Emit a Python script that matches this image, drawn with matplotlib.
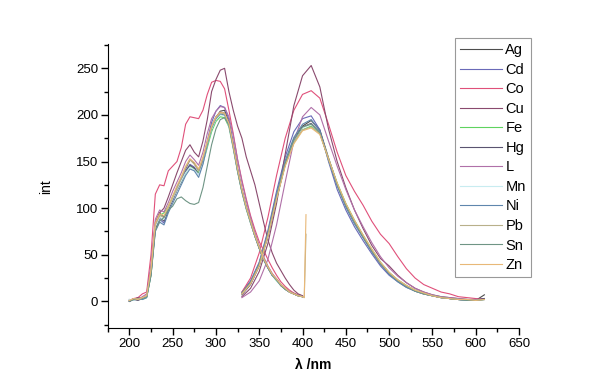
import numpy as np
import matplotlib
matplotlib.use('Agg')
import matplotlib.pyplot as plt
from matplotlib.ticker import MultipleLocator

plt.rcParams['font.family'] = ['Liberation Sans', 'DejaVu Sans']

# ── data ──────────────────────────────────────────────────────
names = ['Ag', 'Cd', 'Co', 'Cu', 'Fe', 'Hg', 'L', 'Mn', 'Ni', 'Pb', 'Sn', 'Zn']

# excitation band, 200-400 nm every 5 nm
ex_x = np.arange(200, 401, 5)
ex_Ag = [0, 3, 2, 4, 5, 35, 82, 95, 90, 100, 112, 122, 132, 142, 152, 148, 140, 152, 170, 186, 197, 204, 205, 192, 168, 142, 120, 102, 86, 71, 58, 46, 37, 29, 24, 18, 14, 10, 8, 6, 5]
ex_Cd = [2, 1, 4, 3, 6, 32, 78, 88, 84, 98, 110, 121, 131, 140, 147, 144, 137, 150, 172, 192, 204, 210, 208, 195, 170, 143, 120, 100, 84, 70, 57, 45, 36, 28, 23, 17, 13, 10, 8, 6, 5]
ex_Co = [0, 3, 4, 8, 10, 50, 115, 125, 124, 140, 145, 150, 165, 190, 198, 197, 196, 205, 222, 235, 237, 236, 228, 205, 180, 152, 130, 110, 92, 77, 64, 55, 45, 36, 28, 21, 16, 12, 9, 7, 6]
ex_Cu = [1, 2, 4, 3, 6, 35, 85, 95, 100, 112, 125, 138, 150, 162, 168, 160, 155, 172, 195, 225, 238, 248, 250, 225, 205, 188, 175, 155, 140, 125, 105, 85, 66, 52, 41, 33, 25, 18, 12, 8, 6]
ex_Fe = [1, 2, 3, 2, 4, 28, 80, 92, 95, 102, 112, 120, 128, 138, 145, 142, 138, 148, 165, 182, 193, 198, 197, 187, 164, 139, 117, 99, 84, 70, 57, 45, 36, 28, 22, 17, 13, 10, 8, 6, 5]
ex_Hg = [0, 2, 1, 3, 5, 30, 78, 90, 86, 98, 108, 119, 128, 139, 146, 143, 136, 150, 170, 188, 198, 203, 202, 190, 166, 140, 118, 100, 85, 70, 57, 45, 36, 28, 23, 17, 13, 10, 8, 6, 5]
ex_L = [1, 3, 2, 5, 8, 38, 88, 98, 96, 106, 118, 128, 138, 150, 157, 152, 146, 160, 180, 196, 204, 209, 208, 198, 178, 152, 128, 108, 90, 74, 60, 48, 38, 30, 24, 18, 14, 10, 8, 6, 5]
ex_Mn = [2, 1, 3, 2, 5, 30, 80, 90, 88, 100, 110, 120, 129, 138, 144, 141, 136, 148, 168, 185, 195, 200, 199, 188, 164, 139, 117, 99, 84, 70, 57, 45, 36, 28, 22, 17, 13, 10, 8, 6, 5]
ex_Ni = [0, 2, 3, 2, 4, 28, 75, 85, 82, 95, 105, 115, 125, 135, 142, 140, 133, 147, 168, 186, 196, 201, 200, 189, 165, 140, 118, 100, 85, 70, 57, 45, 36, 28, 23, 17, 13, 10, 8, 6, 5]
ex_Pb = [1, 2, 3, 4, 6, 33, 82, 92, 90, 100, 111, 121, 132, 143, 152, 147, 140, 153, 170, 187, 197, 202, 201, 190, 166, 141, 119, 101, 85, 71, 58, 46, 37, 29, 23, 18, 14, 10, 8, 6, 5]
ex_Sn = [0, 2, 2, 3, 5, 28, 76, 86, 90, 98, 102, 110, 112, 108, 105, 104, 106, 122, 145, 168, 185, 195, 197, 189, 166, 140, 118, 100, 85, 70, 57, 45, 36, 28, 23, 17, 13, 10, 8, 6, 5]
ex_Zn = [1, 3, 2, 4, 6, 34, 84, 94, 92, 102, 113, 124, 134, 145, 153, 149, 142, 155, 172, 188, 198, 203, 202, 191, 167, 142, 120, 101, 86, 71, 58, 46, 37, 29, 24, 18, 14, 10, 8, 6, 5]

# scatter spike just after 400 nm
spike_x = [402, 404]
spike_Pb = [4, 72]
spike_Zn = [4, 93]

# emission band, 330-610 nm every 10 nm
em_x = np.arange(330, 611, 10)
em_Ag = [8, 20, 40, 72, 112, 148, 174, 188, 194, 184, 154, 126, 104, 86, 70, 55, 41, 30, 22, 16, 11, 8, 6, 4, 3, 2, 1, 1, 7]
em_Cd = [10, 22, 42, 76, 118, 155, 182, 196, 199, 184, 150, 120, 98, 80, 65, 51, 38, 28, 21, 15, 11, 8, 6, 4, 3, 2, 2, 1, 3]
em_Co = [10, 25, 52, 90, 135, 175, 205, 222, 226, 218, 190, 160, 135, 118, 103, 86, 72, 62, 48, 35, 25, 18, 14, 10, 8, 5, 4, 3, 2]
em_Cu = [5, 14, 32, 62, 105, 158, 210, 242, 253, 230, 185, 150, 122, 98, 78, 60, 46, 38, 28, 20, 14, 10, 7, 5, 4, 3, 2, 2, 3]
em_Fe = [8, 19, 38, 70, 110, 146, 170, 184, 188, 180, 153, 127, 105, 87, 71, 56, 42, 31, 23, 17, 12, 9, 6, 5, 3, 2, 2, 1, 2]
em_Hg = [7, 18, 38, 70, 110, 147, 173, 187, 191, 182, 152, 125, 103, 85, 69, 54, 40, 30, 22, 16, 11, 8, 6, 4, 3, 2, 1, 1, 3]
em_L = [4, 10, 22, 45, 82, 128, 172, 198, 208, 200, 172, 145, 120, 98, 80, 63, 48, 36, 27, 20, 14, 10, 7, 5, 4, 3, 2, 2, 2]
em_Mn = [8, 20, 40, 72, 112, 148, 172, 186, 190, 181, 152, 125, 103, 85, 70, 55, 41, 30, 22, 16, 11, 8, 6, 4, 3, 2, 1, 1, 2]
em_Ni = [9, 21, 41, 74, 115, 151, 176, 190, 195, 183, 152, 124, 101, 83, 68, 53, 40, 29, 21, 15, 11, 8, 6, 4, 3, 2, 1, 1, 2]
em_Pb = [8, 19, 39, 71, 111, 147, 171, 184, 187, 180, 153, 126, 104, 86, 70, 55, 41, 31, 23, 17, 12, 8, 6, 4, 3, 2, 2, 1, 2]
em_Sn = [9, 20, 40, 72, 112, 148, 173, 187, 190, 181, 152, 125, 103, 85, 69, 54, 41, 30, 22, 16, 11, 8, 6, 4, 3, 2, 1, 1, 2]
em_Zn = [8, 19, 38, 70, 110, 145, 169, 183, 186, 179, 153, 127, 105, 87, 71, 56, 42, 31, 23, 17, 12, 9, 6, 4, 3, 2, 2, 1, 2]

colors = ['#4d4d4d', '#6a6ab8', '#e0507a', '#8a4a6e', '#5fd35f', '#5a5470',
          '#b070a8', '#c8ecf0', '#5f86ad', '#b8b08a', '#6f9585', '#e8b878']

ex_all = [ex_Ag, ex_Cd, ex_Co, ex_Cu, ex_Fe, ex_Hg, ex_L, ex_Mn, ex_Ni, ex_Pb, ex_Sn, ex_Zn]
em_all = [em_Ag, em_Cd, em_Co, em_Cu, em_Fe, em_Hg, em_L, em_Mn, em_Ni, em_Pb, em_Sn, em_Zn]
spikes = {'Pb': spike_Pb, 'Zn': spike_Zn}

# ── plot ──────────────────────────────────────────────────────
fig = plt.figure(figsize=(6, 3.9), dpi=100)
ax = fig.add_axes([0.1795, 0.158, 0.6855, 0.729])

for name, c, ex, em in zip(names, colors, ex_all, em_all):
    ex_xx = list(ex_x)
    ex_yy = list(ex)
    if name in spikes:
        ex_xx += spike_x
        ex_yy += spikes[name]
    ax.plot(ex_xx, ex_yy, color=c, lw=0.8, label=name)
    ax.plot(em_x, em, color=c, lw=0.8)

ax.set_xlim(175, 650)
ax.set_ylim(-29, 276)
ax.spines['top'].set_visible(False)
ax.spines['right'].set_visible(False)
ax.xaxis.set_major_locator(MultipleLocator(50))
ax.xaxis.set_minor_locator(MultipleLocator(25))
ax.yaxis.set_major_locator(MultipleLocator(50))
ax.yaxis.set_minor_locator(MultipleLocator(25))
ax.tick_params(which='major', direction='out', length=5, width=1, labelsize=9.5, pad=2)
ax.tick_params(which='minor', direction='out', length=3, width=1)

ax.set_xlabel('λ /nm', fontsize=10, fontweight='bold', labelpad=6)
ax.set_ylabel('int', fontsize=10, labelpad=16)

leg = ax.legend(loc='upper left', bbox_to_anchor=(455 / 600, 1 - 38 / 390),
                bbox_transform=fig.transFigure, borderaxespad=0,
                fontsize=10.5, handlelength=2.9, handletextpad=0.2,
                labelspacing=0.38, borderpad=0.35, fancybox=False)
leg.get_frame().set_edgecolor('#808080')
leg.get_frame().set_linewidth(0.8)

fig.savefig('out.png', dpi=100)
